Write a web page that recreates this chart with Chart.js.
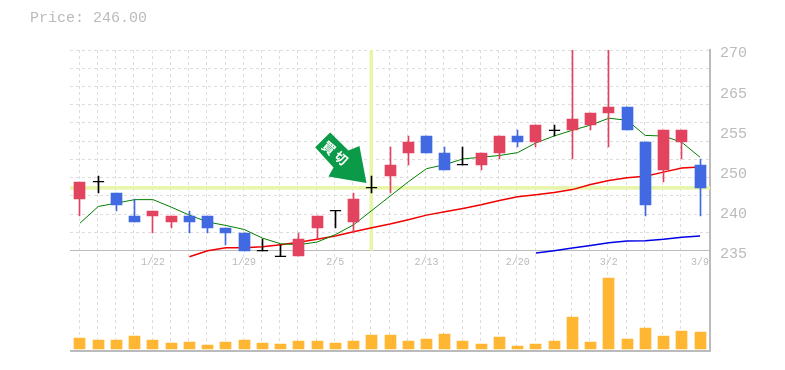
<!DOCTYPE html>
<html><head><meta charset="utf-8">
<style>html,body{margin:0;padding:0;background:#fff}#wrap{position:relative;width:785px;height:370px}
#title{position:absolute;left:30px;top:10px;font:15px "Liberation Mono",monospace;color:#bbb;white-space:pre}</style>
<script src="https://cdn.jsdelivr.net/npm/chart.js@4"></script></head>
<body><div id="wrap"><div id="title">Price: 246.00</div><canvas id="c" width="785" height="370"></canvas></div>
<script>
// date labels that are printed on the axis (index => label)
const dateIndex=[4,9,14,19,24,29,34];
const dateLabels=['1/22','1/29','2/5','2/13','2/20','3/2','3/9'];
const open =[244,247,245,241,241,240,241,241,239,238,235,234,234,239,242,240,246,248,252,255,252,250,250,252,255,254,256,256,257,259,260,254,249,254,250];
const close=[247,247,243,240,242,241,240,239,238,235,235,234,237,241,242,244,246,250,254,252,249,250,252,255,254,257,256,258,259,260,256,243,256,256,246];
const high =[247,248,245,244,242,241,242,241,239,238,237,236,238,241,242,245,248,253,255,255,253,253,252,255,256,257,257,275,259,275,260,254,256,256,251];
const low  =[241,245,242,240,238,239,238,238,236,235,235,234,234,237,239,238,245,245,250,252,249,250,249,251,253,253,255,251,256,253,256,241,247,251,241];
const maShort=[239.8,242.7,243.3,243.9,243.9,242.6,241.2,240,239.4,238.7,237.2,236.2,236.05,236.5,237.8,239.5,242,244.5,247,249.3,250,251,251.3,251.6,252.1,253.8,255,256,256.9,258.1,257.75,255.1,255,253.9,251.3];
const maMid=[null,null,null,null,null,null,233.95,235,235.5,235.5,235.7,236.05,236.45,237,237.55,238.3,239,239.65,240.4,241.2,241.8,242.35,243,243.75,244.4,244.75,245.15,245.65,246.55,247.25,247.7,248,248.7,249.4,249.6];
const maLong=[null,null,null,null,null,null,null,null,null,null,null,null,null,null,null,null,null,null,null,null,null,null,null,null,null,234.6,235,235.45,235.9,236.4,236.7,236.75,237,237.35,237.55];
const volume=[11,9,9,13,9,6,7,4,7,9,6,5,8,8,6,8,14,14,8,10,15,8,5,12,3,5,8,32,7,71,10,21,13,18,17];
const priceGridTicks=[270,266.818,263.636,260.455,257.273,254.091,250.909,247.727,244.545,241.364,238.182,235];
const priceLabelTicks=[270,263,256,249,242,235];
const priceLabels=['270','265','255','250','240','235'];
const currentPrice=246, markerIndex=16;
const markerText='買切';

const RED='#e2435f',BLUE='#4169e1',BLACK='#000',LIME='#e6f5a8',GRID='#ddd',AXIS='#bbb',ORANGE='#ffb733';
const CLIP={left:0,top:0,right:0,bottom:10};
const idx=open.map((_,i)=>i);
const colorOf=i=>open[i]===close[i]?BLACK:(close[i]>open[i]?RED:BLUE);
const pts=a=>a.map((v,i)=>({x:i,y:v}));
const xGridTicks=idx.map(i=>i-0.548);

const snap={id:'snap',beforeDatasetsDraw(chart){
  chart.data.datasets.forEach((d,n)=>{
    const meta=chart.getDatasetMeta(n);
    if(d.label==='Doji'){meta.data.forEach(el=>{el.x=Math.floor(el.x)+0.5;el.y=Math.floor(el.y)+0.5;});return;}
    if(d.type==='line')return;
    meta.data.forEach(el=>{
      el.x=Math.floor(el.x)+0.5; el.y=Math.round(el.y); el.base=Math.round(el.base);
    });});}};
const overlay={id:'overlay',
 beforeDatasetsDraw(chart){
  const {ctx,chartArea:a,scales:{x,y}}=chart;
  const py=y.getPixelForValue(currentPrice),px=x.getPixelForValue(markerIndex)-0.8;
  ctx.save();ctx.fillStyle=LIME;
  ctx.fillRect(a.left,py-1.5,a.right-a.left,3.5);
  ctx.fillRect(px-1.5,a.top,3.5,y.bottom-a.top);
  ctx.restore();
 },
 afterDatasetsDraw(chart){
  const {ctx,scales:{x,y}}=chart;
  const ox=x.getPixelForValue(markerIndex),oy=y.getPixelForValue(currentPrice);
  const shape=[[-56.6,-40.3],[-41.6,-55],[-23.3,-37],[-12.3,-41.7],[-5.3,-4.5],[-43.3,-11],[-38.3,-20]];
  ctx.save();ctx.fillStyle='#0a9a48';ctx.beginPath();
  shape.forEach((p,i)=>i?ctx.lineTo(ox+p[0],oy+p[1]):ctx.moveTo(ox+p[0],oy+p[1]));
  ctx.closePath();ctx.fill();
  ctx.translate(ox-35.6,oy-33.7);ctx.rotate(40*Math.PI/180);
  ctx.fillStyle='#fff';ctx.font='bold 13px "Noto Sans CJK JP"';ctx.letterSpacing='3px';ctx.textAlign='center';ctx.textBaseline='middle';
  ctx.fillText(markerText,0,0);
  ctx.restore();
 }};

new Chart(document.getElementById('c'),{
 type:'bar',
 data:{datasets:[
  {type:'bar',label:'Volume',yAxisID:'vol',data:pts(volume),backgroundColor:ORANGE,barThickness:11,grouped:false,order:1},
  {type:'line',label:'MA short',yAxisID:'y',data:pts(maShort),borderColor:'#008000',borderWidth:1,pointRadius:0,order:5,clip:CLIP},
  {type:'line',label:'MA mid',yAxisID:'y',data:pts(maMid),borderColor:'#f00000',borderWidth:1.5,pointRadius:0,order:5,clip:CLIP},
  {type:'line',label:'MA long',yAxisID:'y',data:pts(maLong),borderColor:'#0000e6',borderWidth:1.5,pointRadius:0,order:5,clip:CLIP},
  {type:'bar',label:'Wick',yAxisID:'y',data:idx.map(i=>({x:i,y:[low[i],high[i]]})),backgroundColor:idx.map(colorOf),barThickness:1,grouped:false,order:3,clip:CLIP},
  {type:'bar',label:'Body',yAxisID:'y',data:idx.map(i=>({x:i,y:[open[i],close[i]]})),backgroundColor:idx.map(colorOf),barThickness:11,grouped:false,order:2,clip:CLIP},
  {type:'line',label:'Doji',yAxisID:'y',data:idx.map(i=>({x:i,y:open[i]===close[i]?open[i]:null})),showLine:false,pointStyle:'line',pointRadius:5.5,pointBorderColor:BLACK,pointBorderWidth:1,pointBackgroundColor:BLACK,order:1,clip:CLIP}
 ]},
 plugins:[snap,overlay],
 options:{
  responsive:false,animation:false,
  layout:{padding:{left:70,top:50,right:0,bottom:12}},
  plugins:{legend:{display:false},tooltip:{enabled:false}},
  scales:{
   x:{type:'linear',offset:false,min:-0.548,max:34.548,position:{vol:98},
    afterFit(s){s.height=0;},
    afterBuildTicks(s){s.ticks=[...xGridTicks.map(v=>({value:v})),...dateIndex.map(v=>({value:v}))];},
    afterTickToLabelConversion(s){s.ticks.forEach(t=>{const k=dateIndex.indexOf(t.value);t.label=k>=0?dateLabels[k]:'';});},
    ticks:{autoSkip:false,maxRotation:0,color:AXIS,font:{family:'"Liberation Mono"',size:10},padding:6},
    grid:{color:c=>dateIndex.includes(c.tick&&c.tick.value)?'transparent':GRID,drawTicks:false},
    border:{display:false,dash:[3,3]}
   },
   y:{position:'right',stack:'v',stackWeight:2,min:235,max:270,
    afterFit(s){s.width=75;},
    afterBuildTicks(s){s.ticks=[...new Set([...priceGridTicks,...priceLabelTicks])].map(v=>({value:v}));},
    afterTickToLabelConversion(s){s.ticks.forEach(t=>{const k=priceLabelTicks.indexOf(t.value);t.label=k>=0?priceLabels[k]:'';});},
    ticks:{autoSkip:false,color:AXIS,font:{family:'"Liberation Mono"',size:15},padding:10,labelOffset:3.5},
    grid:{color:c=>{const v=c.tick&&c.tick.value;return v===235?AXIS:(priceGridTicks.includes(v)?GRID:'transparent');},drawTicks:false},
    border:{display:true,color:AXIS,width:2,dash:c=>c.tick&&c.tick.value===235?[]:[3,3]}
   },
   vol:{position:'right',stack:'v',stackWeight:1,min:-2,max:98,
    afterFit(s){s.width=75;},
    afterBuildTicks(s){s.ticks=[{value:-2}];},
    ticks:{display:false},
    grid:{color:AXIS,lineWidth:2,drawTicks:false},
    border:{display:true,color:AXIS,width:2}
   }
  }
 }
});
</script></body></html>
